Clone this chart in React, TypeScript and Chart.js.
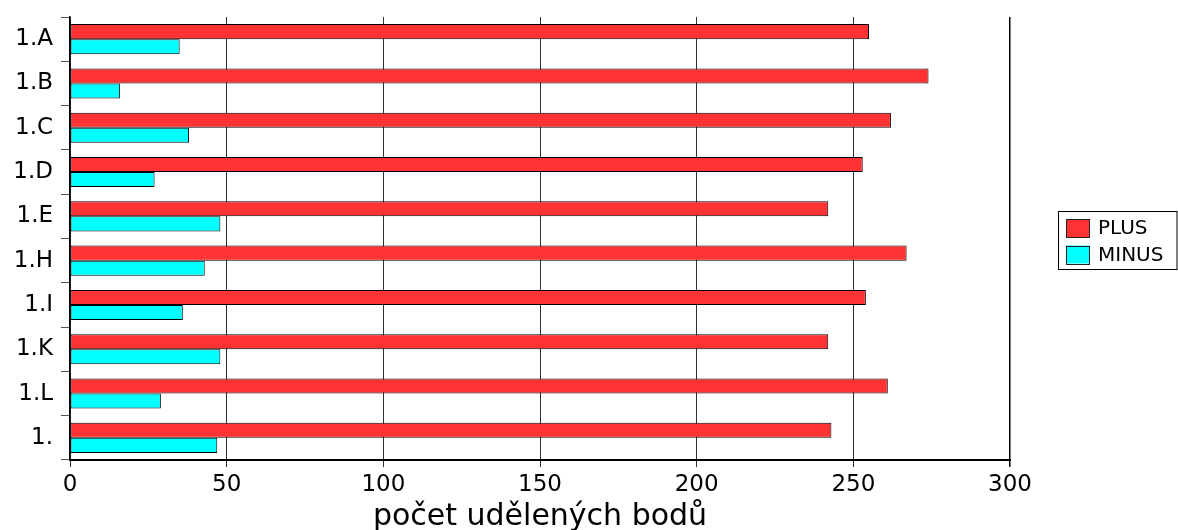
import React, { useEffect, useRef } from 'react';
import { Chart, registerables } from 'chart.js';

Chart.register(...registerables);

const categories = ['1.A', '1.B', '1.C', '1.D', '1.E', '1.H', '1.I', '1.K', '1.L', '1.'];
const plusValues = [255, 274, 262, 253, 242, 267, 254, 242, 261, 243];
const minusValues = [35, 16, 38, 27, 48, 43, 36, 48, 29, 47];
const seriesNames = ['PLUS', 'MINUS'];
const seriesColors = ['#FF3333', '#00FFFF'];
const xMin = 0;
const xMax = 300;
const xStep = 50;
const axisTitle = 'počet udělených bodů';

const FONT = '"DejaVu Sans", "Liberation Sans", Arial, sans-serif';

const legendBox = {
  id: 'legendBox',
  afterDraw(chart: any) {
    const ctx = chart.ctx;
    const area = chart.chartArea;
    const x0 = Math.round(area.right + 48) + 0.5;
    const y0 = 211.5;
    const w = chart.width - x0 - 1;
    const h = 58;
    ctx.save();
    ctx.strokeStyle = '#000';
    ctx.lineWidth = 1;
    ctx.strokeRect(x0, y0, w, h);
    chart.data.datasets.forEach((ds: any, i: number) => {
      const sx = x0 + 7.5;
      const sy = y0 + 7.5 + i * 26.5;
      ctx.fillStyle = ds.backgroundColor;
      ctx.fillRect(sx, sy, 24, 18);
      ctx.strokeStyle = '#222';
      ctx.strokeRect(Math.round(sx) + 0.5, Math.round(sy) + 0.5, 23, 18);
      ctx.fillStyle = '#000';
      ctx.font = '20px ' + FONT;
      ctx.textBaseline = 'middle';
      ctx.textAlign = 'left';
      ctx.fillText(ds.label, sx + 32, sy + 10);
    });
    ctx.restore();
  },
};

export default function App() {
  const ref = useRef<HTMLCanvasElement | null>(null);

  useEffect(() => {
    if (!ref.current) return;
    const chart = new Chart(ref.current, {
      type: 'bar',
      data: {
        labels: categories,
        datasets: [
          {
            label: seriesNames[0],
            data: plusValues,
            backgroundColor: seriesColors[0],
            borderColor: '#000',
            borderWidth: 1,
            borderSkipped: false,
            categoryPercentage: 0.68,
            barPercentage: 1.0,
          },
          {
            label: seriesNames[1],
            data: minusValues,
            backgroundColor: seriesColors[1],
            borderColor: '#000',
            borderWidth: 1,
            borderSkipped: false,
            categoryPercentage: 0.68,
            barPercentage: 1.0,
          },
        ],
      },
      options: {
        indexAxis: 'y',
        animation: false,
        responsive: false,
        devicePixelRatio: 1,
        layout: { padding: { left: 0, right: 168, top: 17, bottom: 0 } },
        plugins: {
          legend: { display: false },
          tooltip: { enabled: false },
        },
        scales: {
          x: {
            type: 'linear',
            min: xMin,
            max: xMax,
            ticks: {
              stepSize: xStep,
              color: '#000',
              font: { family: FONT, size: 23 },
              padding: 4,
              maxRotation: 0,
            },
            grid: {
              color: (c: any) => (c.tick && c.tick.value === xMax ? '#000' : '#333'),
              lineWidth: (c: any) => (c.tick && c.tick.value === xMax ? 1.5 : 1),
              tickLength: 7,
              drawTicks: true,
            },
            border: { display: true, color: '#000', width: 2 },
            title: {
              display: true,
              text: axisTitle,
              color: '#000',
              font: { family: FONT, size: 30, lineHeight: 1 },
              padding: { top: 0, bottom: -2 },
            },
            afterFit: (scale: any) => {
              scale.height = 70;
            },
          },
          y: {
            type: 'category',
            offset: true,
            ticks: {
              color: '#000',
              font: { family: FONT, size: 23 },
              padding: 8,
            },
            grid: {
              offset: true,
              drawOnChartArea: false,
              drawTicks: true,
              tickLength: 9,
              color: '#555',
            },
            border: { display: true, color: '#000', width: 1.5 },
            afterFit: (scale: any) => {
              scale.width = 70;
              scale.paddingTop = 0;
              scale.paddingBottom = 0;
            },
          },
        },
      },
      plugins: [legendBox],
    });
    return () => chart.destroy();
  }, []);

  return (
    <div style={{ position: 'fixed', left: 0, top: 0, width: 1178, height: 530, background: '#fff' }}>
      <canvas ref={ref} width={1178} height={530} style={{ display: 'block' }} />
    </div>
  );
}
